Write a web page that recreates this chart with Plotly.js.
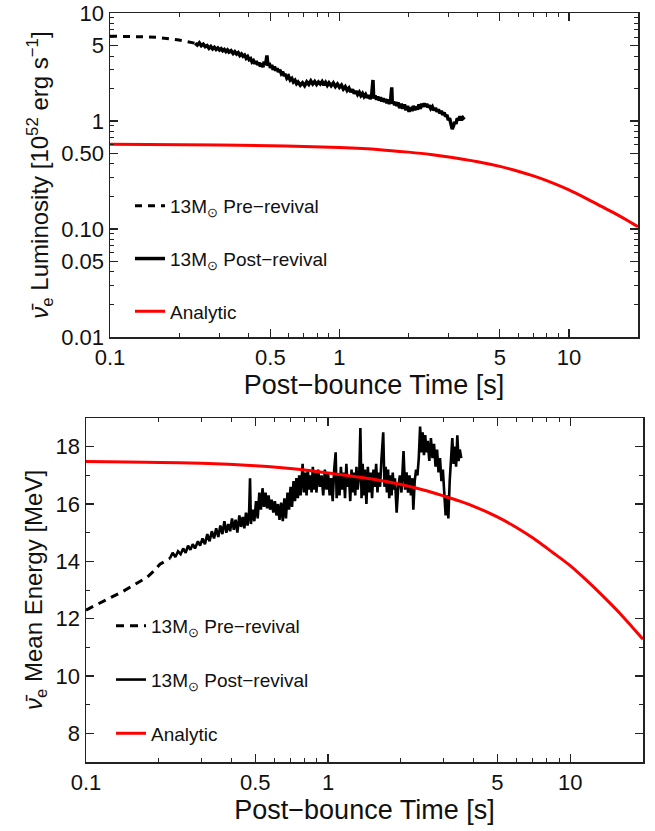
<!DOCTYPE html>
<html>
<head>
<meta charset="utf-8">
<script src="https://cdn.plot.ly/plotly-3.0.1.min.js"></script>
<style>html,body{margin:0;padding:0;background:#fff;}#chart{width:655px;height:831px;}</style>
</head>
<body>
<div id="chart"></div>
<script>
// ---- Luminosity panel data ----
const lumPreT = [0.1, 0.12, 0.14, 0.16, 0.18, 0.2, 0.215, 0.235];
const lumPreL = [6.1, 6.08, 6.02, 5.95, 5.8, 5.62, 5.45, 5.25];

const lumPostT = [0.235, 0.24, 0.245, 0.25, 0.255, 0.26, 0.265, 0.27, 0.275, 0.28, 0.285, 0.29, 0.295, 0.30, 0.305, 0.31, 0.315, 0.32, 0.325, 0.33, 0.337, 0.344, 0.35, 0.356, 0.362, 0.368, 0.374, 0.38, 0.386, 0.392, 0.398, 0.404, 0.41, 0.416, 0.422, 0.428, 0.434, 0.44, 0.446, 0.452, 0.458, 0.464, 0.47, 0.476, 0.483, 0.488, 0.494, 0.50, 0.507, 0.514, 0.521, 0.528, 0.535, 0.542, 0.55, 0.558, 0.566, 0.574, 0.582, 0.59, 0.6, 0.61, 0.62, 0.63, 0.64, 0.65, 0.66, 0.675, 0.69, 0.705, 0.72, 0.735, 0.75, 0.765, 0.78, 0.795, 0.81, 0.825, 0.84, 0.855, 0.87, 0.885, 0.9, 0.92, 0.94, 0.96, 0.98, 1.0, 1.02, 1.04, 1.06, 1.08, 1.1, 1.12, 1.14, 1.16, 1.18, 1.2, 1.22, 1.24, 1.26, 1.28, 1.3, 1.32, 1.34, 1.36, 1.38, 1.40, 1.41, 1.43, 1.45, 1.47, 1.49, 1.51, 1.53, 1.55, 1.57, 1.59, 1.61, 1.63, 1.65, 1.67, 1.69, 1.70, 1.72, 1.74, 1.76, 1.78, 1.8, 1.83, 1.86, 1.89, 1.92, 1.95, 1.98, 2.01, 2.04, 2.07, 2.1, 2.13, 2.16, 2.19, 2.22, 2.25, 2.28, 2.31, 2.34, 2.37, 2.4, 2.43, 2.46, 2.5, 2.54, 2.58, 2.62, 2.66, 2.7, 2.74, 2.78, 2.82, 2.86, 2.9, 2.94, 2.98, 3.02, 3.06, 3.1, 3.14, 3.18, 3.22, 3.26, 3.3, 3.35, 3.4, 3.45, 3.5];
const lumPostL = [5.25, 5.05, 5.3, 4.98, 5.15, 4.88, 5.0, 4.72, 4.9, 4.65, 4.82, 4.6, 4.75, 4.55, 4.68, 4.48, 4.6, 4.4, 4.55, 4.35, 4.48, 4.22, 4.38, 4.18, 4.3, 4.05, 4.18, 3.98, 4.08, 3.82, 3.95, 3.7, 3.78, 3.52, 3.62, 3.4, 3.58, 3.3, 3.48, 3.2, 3.42, 3.15, 3.55, 3.3, 4.05, 3.25, 3.45, 3.1, 3.3, 2.98, 3.2, 2.92, 3.08, 2.85, 2.98, 2.75, 2.85, 2.62, 2.72, 2.5, 2.6, 2.4, 2.48, 2.3, 2.38, 2.22, 2.3, 2.15, 2.26, 2.12, 2.3, 2.18, 2.35, 2.2, 2.32, 2.18, 2.3, 2.2, 2.32, 2.15, 2.28, 2.14, 2.26, 2.12, 2.25, 2.08, 2.2, 2.05, 2.15, 1.98, 2.08, 1.92, 2.02, 1.85, 1.96, 1.8, 1.9, 1.76, 1.85, 1.72, 1.8, 1.68, 1.76, 1.64, 1.74, 1.6, 1.7, 2.4, 1.62, 1.72, 1.58, 1.68, 1.55, 1.66, 1.52, 1.62, 1.5, 1.6, 1.46, 1.58, 1.44, 1.55, 2.05, 1.45, 1.52, 1.4, 1.5, 1.38, 1.48, 1.32, 1.44, 1.3, 1.42, 1.26, 1.38, 1.22, 1.34, 1.24, 1.38, 1.26, 1.36, 1.28, 1.42, 1.3, 1.45, 1.35, 1.46, 1.36, 1.44, 1.34, 1.4, 1.3, 1.36, 1.26, 1.32, 1.22, 1.28, 1.18, 1.24, 1.14, 1.2, 1.1, 1.14, 1.02, 1.06, 0.92, 0.84, 0.9, 0.98, 0.94, 1.06, 1.02, 1.1, 1.02, 1.07, 1.03];

const lumAnaT = [0.1, 0.3, 0.5, 0.7, 1.0, 1.5, 2.0, 2.5, 3.0, 4.0, 5.0, 6.0, 7.0, 8.0, 10, 12, 14, 16, 18, 20];
const lumAnaL = [0.61, 0.60, 0.59, 0.58, 0.567, 0.543, 0.515, 0.49, 0.465, 0.42, 0.38, 0.343, 0.31, 0.28, 0.23, 0.19, 0.16, 0.138, 0.12, 0.105];

// ---- Mean energy panel data ----
const enPreT = [0.1, 0.115, 0.129, 0.142, 0.156, 0.168, 0.179, 0.19, 0.202, 0.212, 0.222];
const enPreE = [12.3, 12.55, 12.76, 12.95, 13.15, 13.3, 13.45, 13.65, 13.9, 14.0, 14.1];

const enPostT = [0.222, 0.228, 0.234, 0.24, 0.246, 0.252, 0.258, 0.264, 0.27, 0.276, 0.282, 0.29, 0.296, 0.303, 0.31, 0.317, 0.324, 0.331, 0.338, 0.345, 0.352, 0.359, 0.366, 0.373, 0.38, 0.387, 0.394, 0.401, 0.408, 0.415, 0.422, 0.43, 0.437, 0.444, 0.451, 0.458, 0.465, 0.472, 0.476, 0.48, 0.488, 0.496, 0.504, 0.512, 0.52, 0.528, 0.536, 0.544, 0.552, 0.56, 0.568, 0.576, 0.585, 0.594, 0.603, 0.612, 0.621, 0.63, 0.64, 0.65, 0.66, 0.67, 0.68, 0.69, 0.70, 0.71, 0.72, 0.73, 0.74, 0.75, 0.76, 0.77, 0.785, 0.795, 0.805, 0.815, 0.825, 0.835, 0.845, 0.855, 0.865, 0.875, 0.885, 0.895, 0.91, 0.925, 0.94, 0.955, 0.97, 0.985, 1.0, 1.015, 1.03, 1.045, 1.06, 1.075, 1.085, 1.1, 1.115, 1.13, 1.145, 1.16, 1.175, 1.19, 1.205, 1.22, 1.235, 1.25, 1.265, 1.28, 1.295, 1.31, 1.325, 1.345, 1.36, 1.375, 1.39, 1.405, 1.42, 1.44, 1.46, 1.48, 1.5, 1.52, 1.54, 1.56, 1.58, 1.6, 1.62, 1.64, 1.66, 1.69, 1.71, 1.73, 1.75, 1.77, 1.79, 1.81, 1.83, 1.85, 1.87, 1.89, 1.92, 1.95, 1.98, 2.01, 2.05, 2.08, 2.11, 2.14, 2.17, 2.2, 2.23, 2.25, 2.28, 2.31, 2.34, 2.37, 2.4, 2.43, 2.46, 2.49, 2.52, 2.55, 2.58, 2.62, 2.66, 2.7, 2.74, 2.78, 2.82, 2.86, 2.9, 2.94, 2.98, 3.02, 3.06, 3.1, 3.14, 3.18, 3.22, 3.26, 3.3, 3.34, 3.38, 3.42, 3.46, 3.5, 3.55];
const enPostE = [14.1, 14.3, 14.15, 14.35, 14.25, 14.45, 14.3, 14.55, 14.4, 14.6, 14.45, 14.7, 14.55, 14.8, 14.6, 14.95, 14.7, 15.05, 14.8, 15.15, 14.85, 15.25, 14.95, 15.4, 15.0, 15.3, 15.05, 15.5, 15.1, 15.45, 15.0, 15.6, 15.2, 15.55, 15.15, 15.7, 15.25, 15.75, 16.9, 15.3, 15.8, 15.4, 16.1, 15.5, 16.4, 15.8, 16.55, 15.9, 16.4, 15.85, 16.3, 15.8, 16.15, 15.7, 16.1, 15.6, 16.0, 15.45, 16.05, 15.4, 16.2, 15.5, 16.4, 15.8, 16.6, 15.9, 16.8, 16.1, 16.9, 16.2, 17.0, 16.3, 17.4, 16.4, 17.1, 16.3, 17.2, 16.5, 17.0, 16.4, 17.3, 16.5, 17.1, 16.4, 17.2, 16.6, 17.0, 16.3, 17.2, 16.5, 17.1, 16.3, 16.9, 16.1, 17.2, 17.8, 16.2, 17.0, 16.3, 17.3, 16.5, 17.1, 16.2, 17.4, 16.6, 17.0, 16.1, 17.2, 16.4, 17.1, 16.3, 17.3, 16.5, 17.0, 18.65, 16.2, 17.4, 16.3, 17.2, 16.0, 17.3, 16.4, 17.1, 16.2, 17.2, 16.6, 17.4, 16.4, 17.1, 16.6, 17.5, 18.5, 16.6, 17.3, 16.4, 17.2, 16.2, 17.0, 16.3, 17.1, 16.5, 16.9, 15.7, 16.6, 17.0, 16.4, 17.85, 16.5, 17.1, 16.4, 17.0, 16.3, 16.9, 15.8, 16.8, 17.2, 17.0, 17.6, 18.7, 17.8, 18.5, 17.7, 18.4, 17.8, 18.2, 17.5, 18.3, 17.6, 18.1, 17.3, 17.9, 17.1, 17.6, 16.8, 17.2, 16.4, 15.6, 16.3, 15.5, 16.8, 17.6, 18.3, 17.4, 18.0, 17.3, 18.4, 17.5, 17.9, 17.6];

const enAnaT = [0.1, 0.3, 0.5, 0.77, 1.0, 1.5, 2.0, 2.5, 3.0, 3.5, 4.0, 5.0, 6.0, 7.0, 8.5, 10, 12, 14, 16, 18, 20];
const enAnaE = [17.48, 17.42, 17.33, 17.2, 17.08, 16.88, 16.68, 16.48, 16.28, 16.1, 15.92, 15.55, 15.18, 14.82, 14.3, 13.85, 13.25, 12.7, 12.2, 11.72, 11.28];

// ---- tick labels ----
const xTickVals = [0.1, 0.5, 1, 5, 10];
const xTickText = ['0.1', '0.5', '1', '5', '10'];
const xMinorVals = [0.2, 0.3, 0.4, 0.6, 0.7, 0.8, 0.9, 2, 3, 4, 6, 7, 8, 9, 20];
const yLumTickVals = [0.01, 0.05, 0.1, 0.5, 1, 5, 10];
const yLumTickText = ['0.01', '0.05', '0.10', '0.50', '1', '5', '10'];
const yLumMinorVals = [0.02, 0.03, 0.04, 0.06, 0.07, 0.08, 0.09, 0.2, 0.3, 0.4, 0.6, 0.7, 0.8, 0.9, 2, 3, 4, 6, 7, 8, 9];
const yEnTickVals = [8, 10, 12, 14, 16, 18];
const yEnMinorVals = [7, 9, 11, 13, 15, 17, 19];

const legPre = '13M<sub>⊙</sub> Pre\u2212revival';
const legPost = '13M<sub>⊙</sub> Post\u2212revival';
const legAna = 'Analytic';

const FONT = 'Liberation Sans, Arial, Helvetica, sans-serif';

const traces = [
  {x: lumPreT, y: lumPreL, mode: 'lines', line: {color: 'black', width: 3, dash: '7px,6px'}, name: legPre, xaxis: 'x', yaxis: 'y', legend: 'legend', legendgroup: 'a1'},
  {x: lumPostT, y: lumPostL, mode: 'lines', line: {color: 'black', width: 3.5}, name: legPost, xaxis: 'x', yaxis: 'y', legend: 'legend', legendgroup: 'a2'},
  {x: lumAnaT, y: lumAnaL, mode: 'lines', line: {color: 'red', width: 3, shape: 'spline', smoothing: 0.8}, name: legAna, xaxis: 'x', yaxis: 'y', legend: 'legend', legendgroup: 'a3'},
  {x: enPreT, y: enPreE, mode: 'lines', line: {color: 'black', width: 3, dash: '8px,6px'}, name: legPre, xaxis: 'x2', yaxis: 'y2', legend: 'legend2', legendgroup: 'b1'},
  {x: enPostT, y: enPostE, mode: 'lines', line: {color: 'black', width: 2.6}, name: legPost, xaxis: 'x2', yaxis: 'y2', legend: 'legend2', legendgroup: 'b2'},
  {x: enAnaT, y: enAnaE, mode: 'lines', line: {color: 'red', width: 3, shape: 'spline', smoothing: 0.8}, name: legAna, xaxis: 'x2', yaxis: 'y2', legend: 'legend2', legendgroup: 'b3'}
];

const W = 655, H = 831;
function px(a, b) { return [a / W, b / W]; }
function py(top, bottom) { return [(H - bottom) / H, (H - top) / H]; }

const axisCommon = {
  showline: true, linecolor: '#222', linewidth: 1.5, mirror: 'ticks',
  ticks: 'inside', ticklen: 8, tickwidth: 1.2, tickcolor: '#222',
  showgrid: false, zeroline: false, ticklabeloverflow: 'allow',
  tickfont: {family: FONT, size: 22, color: '#111'}
};
const minorCommon = {tickmode: 'array', ticks: 'inside', ticklen: 4, tickcolor: '#222', tickwidth: 1};

const layout = {
  width: W, height: H,
  margin: {l: 0, r: 0, t: 0, b: 0},
  paper_bgcolor: 'white', plot_bgcolor: 'white',
  font: {family: FONT, color: '#111'},
  showlegend: true,
  xaxis: Object.assign({}, axisCommon, {
    type: 'log', range: [-1, Math.log10(20)], domain: px(110, 638), anchor: 'y',
    tickmode: 'array', tickvals: xTickVals, ticktext: xTickText,
    minor: Object.assign({tickvals: xMinorVals}, minorCommon),
    title: {text: 'Post\u2212bounce Time [s]', font: {family: FONT, size: 27}, standoff: 6}
  }),
  yaxis: Object.assign({}, axisCommon, {
    type: 'log', range: [-2.0004, 1.0004], domain: py(13, 337), anchor: 'x',
    tickmode: 'array', tickvals: yLumTickVals, ticktext: yLumTickText,
    minor: Object.assign({tickvals: yLumMinorVals}, minorCommon),
    title: {text: '<i>\u03BD\u0304</i><sub>e</sub> Luminosity [10<sup>52</sup> erg s<sup>\u22121</sup>]', font: {family: FONT, size: 24}, standoff: 6}
  }),
  xaxis2: Object.assign({}, axisCommon, {
    type: 'log', range: [-1, Math.log10(20)], domain: px(86, 643), anchor: 'y2',
    tickmode: 'array', tickvals: xTickVals, ticktext: xTickText,
    minor: Object.assign({tickvals: xMinorVals}, minorCommon),
    title: {text: 'Post\u2212bounce Time [s]', font: {family: FONT, size: 27}, standoff: 6}
  }),
  yaxis2: Object.assign({}, axisCommon, {
    range: [7, 19], domain: py(418, 762), anchor: 'x2',
    tickmode: 'array', tickvals: yEnTickVals,
    minor: Object.assign({tickvals: yEnMinorVals}, minorCommon),
    title: {text: '<i>\u03BD\u0304</i><sub>e</sub> Mean Energy [MeV]', font: {family: FONT, size: 24}, standoff: 6}
  }),
  legend: {
    x: 130 / W, y: (H - 187) / H, xanchor: 'left', yanchor: 'top',
    bgcolor: 'rgba(0,0,0,0)', font: {family: FONT, size: 19, color: '#111'},
    tracegroupgap: 25, traceorder: 'grouped'
  },
  legend2: {
    x: 111 / W, y: (H - 607) / H, xanchor: 'left', yanchor: 'top',
    bgcolor: 'rgba(0,0,0,0)', font: {family: FONT, size: 19, color: '#111'},
    tracegroupgap: 26, traceorder: 'grouped'
  }
};

Plotly.newPlot('chart', traces, layout, {displayModeBar: false, staticPlot: true});
</script>
</body>
</html>
